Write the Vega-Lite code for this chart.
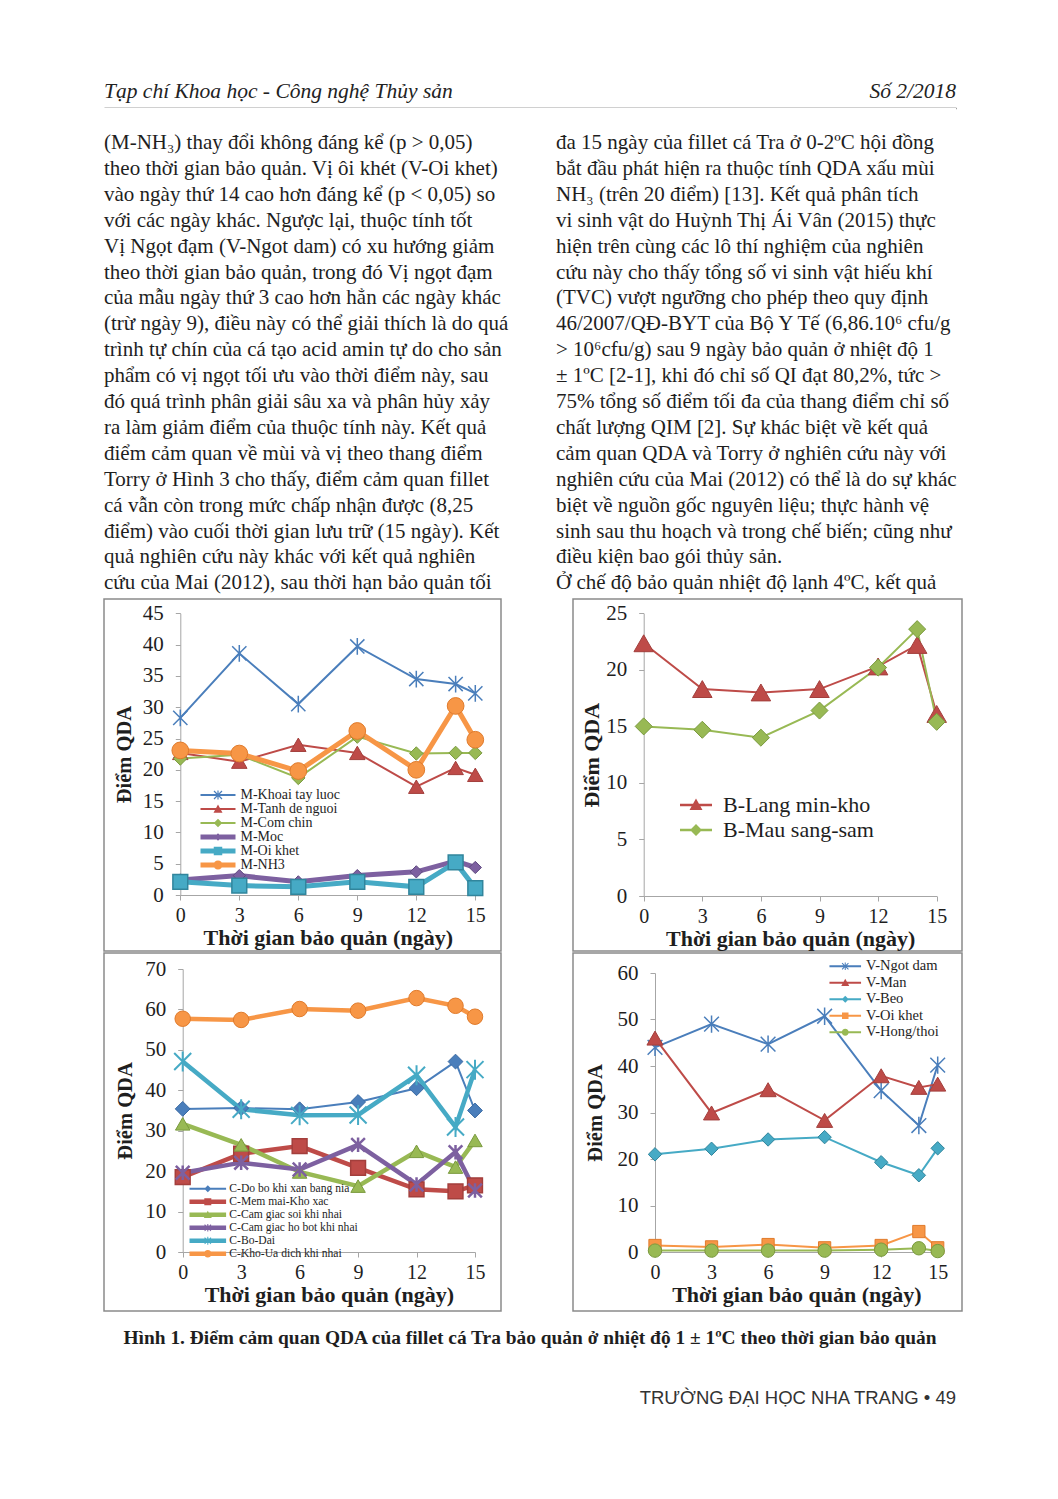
{
"$schema": "https://vega.github.io/schema/vega-lite/v6.json",
"background": "white",
"padding": {"left": 103, "top": 76, "right": 97, "bottom": 40},
"spacing": 0,
"config": {
  "font": "Liberation Serif",
  "view": {"stroke": null},
  "axis": {"grid": false, "domainColor": "#a6a6a6", "tickColor": "#a6a6a6", "domainWidth": 1, "tickWidth": 1, "tickSize": 5, "labelFont": "Liberation Serif", "labelFontSize": 21, "labelColor": "#1e1e1e", "titleFont": "Liberation Serif", "titleFontWeight": "bold", "titleColor": "#1e1e1e", "labelOverlap": false, "labelFlush": false},
  "axisX": {"labelFontSize": 20, "labelPadding": 5, "titlePadding": 2, "titleFontSize": 22},
  "legend": {"labelFont": "Liberation Serif", "labelColor": "#1e1e1e", "labelLimit": 0, "padding": 0, "symbolStrokeWidth": 0}
},
"datasets": {
  "header": [{"side": "left", "text": "Tạp chí Khoa học - Công nghệ Thủy sản"}, {"side": "right", "text": "Số 2/2018"}],
  "body": [
    {"col": 0, "line": 1, "text": "(M-NH₃) thay đổi không đáng kể (p > 0,05)"},
    {"col": 0, "line": 2, "text": "theo thời gian bảo quản. Vị ôi khét (V-Oi khet)"},
    {"col": 0, "line": 3, "text": "vào ngày thứ 14 cao hơn đáng kể (p < 0,05) so"},
    {"col": 0, "line": 4, "text": "với các ngày khác. Ngược lại, thuộc tính tốt"},
    {"col": 0, "line": 5, "text": "Vị Ngọt đạm (V-Ngot dam) có xu hướng giảm"},
    {"col": 0, "line": 6, "text": "theo thời gian bảo quản, trong đó Vị ngọt đạm"},
    {"col": 0, "line": 7, "text": "của mẫu ngày thứ 3 cao hơn hẳn các ngày khác"},
    {"col": 0, "line": 8, "text": "(trừ ngày 9), điều này có thể giải thích là do quá"},
    {"col": 0, "line": 9, "text": "trình tự chín của cá tạo acid amin tự do cho sản"},
    {"col": 0, "line": 10, "text": "phẩm có vị ngọt tối ưu vào thời điểm này, sau"},
    {"col": 0, "line": 11, "text": "đó quá trình phân giải sâu xa và phân hủy xảy"},
    {"col": 0, "line": 12, "text": "ra làm giảm điểm của thuộc tính này. Kết quả"},
    {"col": 0, "line": 13, "text": "điểm cảm quan về mùi và vị theo thang điểm"},
    {"col": 0, "line": 14, "text": "Torry ở Hình 3 cho thấy, điểm cảm quan fillet"},
    {"col": 0, "line": 15, "text": "cá vẫn còn trong mức chấp nhận được (8,25"},
    {"col": 0, "line": 16, "text": "điểm) vào cuối thời gian lưu trữ (15 ngày). Kết"},
    {"col": 0, "line": 17, "text": "quả nghiên cứu này khác với kết quả nghiên"},
    {"col": 0, "line": 18, "text": "cứu của Mai (2012), sau thời hạn bảo quản tối"},
    {"col": 1, "line": 1, "text": "đa 15 ngày của fillet cá Tra ở 0-2ºC hội đồng"},
    {"col": 1, "line": 2, "text": "bắt đầu phát hiện ra thuộc tính QDA xấu mùi"},
    {"col": 1, "line": 3, "text": "NH₃ (trên 20 điểm) [13]. Kết quả phân tích"},
    {"col": 1, "line": 4, "text": "vi sinh vật do Huỳnh Thị Ái Vân (2015) thực"},
    {"col": 1, "line": 5, "text": "hiện trên cùng các lô thí nghiệm của nghiên"},
    {"col": 1, "line": 6, "text": "cứu này cho thấy tổng số vi sinh vật hiếu khí"},
    {"col": 1, "line": 7, "text": "(TVC) vượt ngưỡng cho phép theo quy định"},
    {"col": 1, "line": 8, "text": "46/2007/QĐ-BYT của Bộ Y Tế (6,86.10⁶ cfu/g"},
    {"col": 1, "line": 9, "text": "> 10⁶cfu/g) sau 9 ngày bảo quản ở nhiệt độ 1"},
    {"col": 1, "line": 10, "text": "± 1ºC [2-1], khi đó chỉ số QI đạt 80,2%, tức >"},
    {"col": 1, "line": 11, "text": "75% tổng số điểm tối đa của thang điểm chỉ số"},
    {"col": 1, "line": 12, "text": "chất lượng QIM [2]. Sự khác biệt về kết quả"},
    {"col": 1, "line": 13, "text": "cảm quan QDA và Torry ở nghiên cứu này với"},
    {"col": 1, "line": 14, "text": "nghiên cứu của Mai (2012) có thể là do sự khác"},
    {"col": 1, "line": 15, "text": "biệt về nguồn gốc nguyên liệu; thực hành vệ"},
    {"col": 1, "line": 16, "text": "sinh sau thu hoạch và trong chế biến; cũng như"},
    {"col": 1, "line": 17, "text": "điều kiện bao gói thủy sản."},
    {"col": 1, "line": 18, "text": "\u2003\u00a0\u00a0Ở chế độ bảo quản nhiệt độ lạnh 4ºC, kết quả"}
  ],
  "m": [
    {"day": 0, "series": "M-Khoai tay luoc", "score": 28.3}, {"day": 3, "series": "M-Khoai tay luoc", "score": 38.6}, {"day": 6, "series": "M-Khoai tay luoc", "score": 30.5}, {"day": 9, "series": "M-Khoai tay luoc", "score": 39.7}, {"day": 12, "series": "M-Khoai tay luoc", "score": 34.5}, {"day": 14, "series": "M-Khoai tay luoc", "score": 33.7}, {"day": 15, "series": "M-Khoai tay luoc", "score": 32.2},
    {"day": 0, "series": "M-Tanh de nguoi", "score": 22.7}, {"day": 3, "series": "M-Tanh de nguoi", "score": 21.3}, {"day": 6, "series": "M-Tanh de nguoi", "score": 24.0}, {"day": 9, "series": "M-Tanh de nguoi", "score": 22.7}, {"day": 12, "series": "M-Tanh de nguoi", "score": 17.3}, {"day": 14, "series": "M-Tanh de nguoi", "score": 20.3}, {"day": 15, "series": "M-Tanh de nguoi", "score": 19.2},
    {"day": 0, "series": "M-Com chin", "score": 21.8}, {"day": 3, "series": "M-Com chin", "score": 22.4}, {"day": 6, "series": "M-Com chin", "score": 18.7}, {"day": 9, "series": "M-Com chin", "score": 25.3}, {"day": 12, "series": "M-Com chin", "score": 22.6}, {"day": 14, "series": "M-Com chin", "score": 22.7}, {"day": 15, "series": "M-Com chin", "score": 22.7},
    {"day": 0, "series": "M-Moc", "score": 2.4}, {"day": 3, "series": "M-Moc", "score": 3.1}, {"day": 6, "series": "M-Moc", "score": 2.1}, {"day": 9, "series": "M-Moc", "score": 3.1}, {"day": 12, "series": "M-Moc", "score": 3.7}, {"day": 14, "series": "M-Moc", "score": 5.4}, {"day": 15, "series": "M-Moc", "score": 4.4},
    {"day": 0, "series": "M-Oi khet", "score": 2.1}, {"day": 3, "series": "M-Oi khet", "score": 1.5}, {"day": 6, "series": "M-Oi khet", "score": 1.3}, {"day": 9, "series": "M-Oi khet", "score": 2.1}, {"day": 12, "series": "M-Oi khet", "score": 1.3}, {"day": 14, "series": "M-Oi khet", "score": 5.2}, {"day": 15, "series": "M-Oi khet", "score": 1.1},
    {"day": 0, "series": "M-NH3", "score": 23.1}, {"day": 3, "series": "M-NH3", "score": 22.6}, {"day": 6, "series": "M-NH3", "score": 19.8}, {"day": 9, "series": "M-NH3", "score": 26.2}, {"day": 12, "series": "M-NH3", "score": 20.0}, {"day": 14, "series": "M-NH3", "score": 30.2}, {"day": 15, "series": "M-NH3", "score": 24.8}
  ],
  "b": [
    {"day": 0, "series": "B-Lang min-kho", "score": 22.35}, {"day": 3, "series": "B-Lang min-kho", "score": 18.3}, {"day": 6, "series": "B-Lang min-kho", "score": 18.0}, {"day": 9, "series": "B-Lang min-kho", "score": 18.3}, {"day": 12, "series": "B-Lang min-kho", "score": 20.3}, {"day": 14, "series": "B-Lang min-kho", "score": 22.2}, {"day": 15, "series": "B-Lang min-kho", "score": 16.1},
    {"day": 0, "series": "B-Mau sang-sam", "score": 15.0}, {"day": 3, "series": "B-Mau sang-sam", "score": 14.7}, {"day": 6, "series": "B-Mau sang-sam", "score": 14.0}, {"day": 9, "series": "B-Mau sang-sam", "score": 16.4}, {"day": 12, "series": "B-Mau sang-sam", "score": 20.2}, {"day": 14, "series": "B-Mau sang-sam", "score": 23.6}, {"day": 15, "series": "B-Mau sang-sam", "score": 15.4}
  ],
  "c": [
    {"day": 0, "series": "C-Do bo khi xan bang nia", "score": 35.4}, {"day": 3, "series": "C-Do bo khi xan bang nia", "score": 35.6}, {"day": 6, "series": "C-Do bo khi xan bang nia", "score": 35.3}, {"day": 9, "series": "C-Do bo khi xan bang nia", "score": 37.1}, {"day": 12, "series": "C-Do bo khi xan bang nia", "score": 40.5}, {"day": 14, "series": "C-Do bo khi xan bang nia", "score": 47.1}, {"day": 15, "series": "C-Do bo khi xan bang nia", "score": 35.0},
    {"day": 0, "series": "C-Mem mai-Kho xac", "score": 18.5}, {"day": 3, "series": "C-Mem mai-Kho xac", "score": 24.3}, {"day": 6, "series": "C-Mem mai-Kho xac", "score": 26.2}, {"day": 9, "series": "C-Mem mai-Kho xac", "score": 20.8}, {"day": 12, "series": "C-Mem mai-Kho xac", "score": 15.5}, {"day": 14, "series": "C-Mem mai-Kho xac", "score": 15.0}, {"day": 15, "series": "C-Mem mai-Kho xac", "score": 16.5},
    {"day": 0, "series": "C-Cam giac soi khi nhai", "score": 31.7}, {"day": 3, "series": "C-Cam giac soi khi nhai", "score": 26.5}, {"day": 6, "series": "C-Cam giac soi khi nhai", "score": 19.8}, {"day": 9, "series": "C-Cam giac soi khi nhai", "score": 16.3}, {"day": 12, "series": "C-Cam giac soi khi nhai", "score": 24.9}, {"day": 14, "series": "C-Cam giac soi khi nhai", "score": 21.0}, {"day": 15, "series": "C-Cam giac soi khi nhai", "score": 27.6},
    {"day": 0, "series": "C-Cam giac ho bot khi nhai", "score": 19.6}, {"day": 3, "series": "C-Cam giac ho bot khi nhai", "score": 22.1}, {"day": 6, "series": "C-Cam giac ho bot khi nhai", "score": 20.4}, {"day": 9, "series": "C-Cam giac ho bot khi nhai", "score": 26.5}, {"day": 12, "series": "C-Cam giac ho bot khi nhai", "score": 16.7}, {"day": 14, "series": "C-Cam giac ho bot khi nhai", "score": 24.7}, {"day": 15, "series": "C-Cam giac ho bot khi nhai", "score": 15.2},
    {"day": 0, "series": "C-Bo-Dai", "score": 47.1}, {"day": 3, "series": "C-Bo-Dai", "score": 35.3}, {"day": 6, "series": "C-Bo-Dai", "score": 33.8}, {"day": 9, "series": "C-Bo-Dai", "score": 33.9}, {"day": 12, "series": "C-Bo-Dai", "score": 43.7}, {"day": 14, "series": "C-Bo-Dai", "score": 30.9}, {"day": 15, "series": "C-Bo-Dai", "score": 45.1},
    {"day": 0, "series": "C-Kho-Ua dich khi nhai", "score": 57.7}, {"day": 3, "series": "C-Kho-Ua dich khi nhai", "score": 57.4}, {"day": 6, "series": "C-Kho-Ua dich khi nhai", "score": 60.1}, {"day": 9, "series": "C-Kho-Ua dich khi nhai", "score": 59.7}, {"day": 12, "series": "C-Kho-Ua dich khi nhai", "score": 62.8}, {"day": 14, "series": "C-Kho-Ua dich khi nhai", "score": 60.9}, {"day": 15, "series": "C-Kho-Ua dich khi nhai", "score": 58.2}
  ],
  "v": [
    {"day": 0, "series": "V-Ngot dam", "score": 44.0}, {"day": 3, "series": "V-Ngot dam", "score": 49.0}, {"day": 6, "series": "V-Ngot dam", "score": 44.7}, {"day": 9, "series": "V-Ngot dam", "score": 50.7}, {"day": 12, "series": "V-Ngot dam", "score": 34.7}, {"day": 14, "series": "V-Ngot dam", "score": 27.2}, {"day": 15, "series": "V-Ngot dam", "score": 40.2},
    {"day": 0, "series": "V-Man", "score": 46.0}, {"day": 3, "series": "V-Man", "score": 29.9}, {"day": 6, "series": "V-Man", "score": 34.9}, {"day": 9, "series": "V-Man", "score": 28.3}, {"day": 12, "series": "V-Man", "score": 37.9}, {"day": 14, "series": "V-Man", "score": 35.4}, {"day": 15, "series": "V-Man", "score": 36.1},
    {"day": 0, "series": "V-Beo", "score": 21.0}, {"day": 3, "series": "V-Beo", "score": 22.2}, {"day": 6, "series": "V-Beo", "score": 24.2}, {"day": 9, "series": "V-Beo", "score": 24.7}, {"day": 12, "series": "V-Beo", "score": 19.3}, {"day": 14, "series": "V-Beo", "score": 16.5}, {"day": 15, "series": "V-Beo", "score": 22.3},
    {"day": 0, "series": "V-Oi khet", "score": 1.4}, {"day": 3, "series": "V-Oi khet", "score": 1.1}, {"day": 6, "series": "V-Oi khet", "score": 1.6}, {"day": 9, "series": "V-Oi khet", "score": 0.9}, {"day": 12, "series": "V-Oi khet", "score": 1.4}, {"day": 14, "series": "V-Oi khet", "score": 4.4}, {"day": 15, "series": "V-Oi khet", "score": 0.9},
    {"day": 0, "series": "V-Hong/thoi", "score": 0.3}, {"day": 3, "series": "V-Hong/thoi", "score": 0.3}, {"day": 6, "series": "V-Hong/thoi", "score": 0.3}, {"day": 9, "series": "V-Hong/thoi", "score": 0.3}, {"day": 12, "series": "V-Hong/thoi", "score": 0.5}, {"day": 14, "series": "V-Hong/thoi", "score": 0.8}, {"day": 15, "series": "V-Hong/thoi", "score": 0.2}
  ],
  "caption": [{"text": "Hình 1. Điểm cảm quan QDA của fillet cá Tra bảo quản ở nhiệt độ 1 ± 1ºC theo thời gian bảo quản"}]
},
"resolve": {"scale": {"color": "independent", "shape": "independent"}, "legend": {"color": "independent", "shape": "independent"}},
"vconcat": [
  {
    "width": 852, "height": 32,
    "view": {"stroke": null, "fill": "white"},
    "data": {"name": "header"},
    "encoding": {
      "x": {"field": "side", "type": "nominal", "scale": {"type": "point", "domain": ["left", "right"], "range": [0, 852], "padding": 0}, "axis": {"labels": false, "ticks": false, "title": null, "domainColor": "#444444", "domainWidth": 1.5, "offset": 0}},
      "text": {"field": "text"}
    },
    "layer": [
      {"transform": [{"filter": "datum.side == 'left'"}], "mark": {"type": "text", "align": "left", "baseline": "middle", "font": "Liberation Serif", "fontStyle": "italic", "fontSize": 21.5, "color": "#222222"}},
      {"transform": [{"filter": "datum.side == 'right'"}], "mark": {"type": "text", "align": "right", "baseline": "middle", "font": "Liberation Serif", "fontStyle": "italic", "fontSize": 21.5, "color": "#222222"}}
    ]
  },
  {
    "width": 852, "height": 490,
    "view": {"stroke": null, "fill": "white"},
    "data": {"name": "body"},
    "mark": {"type": "text", "align": "left", "baseline": "middle", "font": "Liberation Serif", "fontSize": 21, "color": "#1e1e1e"},
    "encoding": {
      "x": {"field": "col", "type": "quantitative", "scale": {"domain": [0, 1], "range": [0, 452], "nice": false, "zero": false}, "axis": null},
      "y": {"field": "line", "type": "quantitative", "scale": {"domain": [1, 18], "range": [35, 475.3], "nice": false, "zero": false}, "axis": null},
      "text": {"field": "text"}
    }
  },
  {
    "hconcat": [
      {
        "width": 397, "height": 352,
        "view": {"stroke": "#8a8a8a", "strokeWidth": 1.5, "fill": "white"},
        "data": {"name": "m"},
        "encoding": {
          "x": {"field": "day", "type": "quantitative", "scale": {"domain": [0, 15], "range": [76.3, 371.3], "nice": false, "zero": false}, "axis": {"values": [0, 3, 6, 9, 12, 15], "title": "Thời gian bảo quản (ngày)", "offset": -56}},
          "y": {"field": "score", "type": "quantitative", "scale": {"domain": [0, 45], "range": [296, 14.3], "nice": false, "zero": false}, "axis": {"values": [0, 5, 10, 15, 20, 25, 30, 35, 40, 45], "title": "Điểm QDA", "offset": -76.3, "labelPadding": 12, "titlePadding": 8, "titleFontSize": 20.5}},
          "color": {"field": "series", "type": "nominal", "scale": {"domain": ["M-Khoai tay luoc", "M-Tanh de nguoi", "M-Com chin", "M-Moc", "M-Oi khet", "M-NH3"], "range": ["#4a7ebb", "#be4b48", "#98b954", "#7d60a0", "#46aac5", "#f79646"]}, "legend": {"orient": "none", "legendX": 107, "legendY": 189, "title": null, "padding": 0, "symbolSize": 100, "labelFontSize": 14, "labelOffset": 15.5, "rowPadding": 0}}
        },
        "layer": [
          {"transform": [{"filter": {"field": "series", "oneOf": ["M-Khoai tay luoc", "M-Tanh de nguoi", "M-Com chin"]}}], "mark": {"type": "line", "strokeWidth": 2}},
          {"transform": [{"filter": {"field": "series", "oneOf": ["M-Moc", "M-Oi khet", "M-NH3"]}}], "mark": {"type": "line", "strokeWidth": 5}},
          {"transform": [{"filter": {"field": "series", "equal": "M-Khoai tay luoc"}}], "mark": {"type": "point", "shape": "M-0.85,-0.85L0.85,0.85M-0.85,0.85L0.85,-0.85M0,-1L0,1", "filled": false, "size": 280, "strokeWidth": 1.5, "opacity": 1}},
          {"transform": [{"filter": {"field": "series", "equal": "M-Tanh de nguoi"}}], "mark": {"type": "point", "shape": "triangle-up", "filled": true, "size": 240, "stroke": "#a33f3c", "strokeWidth": 1, "opacity": 1}},
          {"transform": [{"filter": {"field": "series", "equal": "M-Com chin"}}], "mark": {"type": "point", "shape": "diamond", "filled": true, "size": 180, "stroke": "#7a9a3e", "strokeWidth": 1, "opacity": 1}},
          {"transform": [{"filter": {"field": "series", "equal": "M-Moc"}}], "mark": {"type": "point", "shape": "diamond", "filled": true, "size": 150, "stroke": "#5f4a80", "strokeWidth": 1, "opacity": 1}},
          {"transform": [{"filter": {"field": "series", "equal": "M-Oi khet"}}], "mark": {"type": "point", "shape": "square", "filled": true, "size": 220, "stroke": "#31859c", "strokeWidth": 1.5, "opacity": 1}},
          {"transform": [{"filter": {"field": "series", "equal": "M-NH3"}}], "mark": {"type": "point", "shape": "circle", "filled": true, "size": 280, "stroke": "#e07b2c", "strokeWidth": 1, "opacity": 1}},
          {"transform": [{"filter": "datum.day < 0"}], "mark": {"type": "point", "filled": true, "opacity": 1, "strokeWidth": 0},
           "encoding": {
             "shape": {"field": "series", "type": "nominal", "scale": {"domain": ["M-Khoai tay luoc", "M-Tanh de nguoi", "M-Com chin", "M-Moc", "M-Oi khet", "M-NH3"], "range": [
               "M-3.5,-0.2H3.5V0.2H-3.5ZM-0.12,-0.9H0.12V0.9H-0.12ZM-0.715,-0.885L0.885,0.715L0.715,0.885L-0.885,-0.715ZM-0.885,0.715L0.715,-0.885L0.885,-0.715L-0.715,0.885Z",
               "M-3.5,-0.2H3.5V0.2H-3.5ZM-0.9,0.75L0,-0.9L0.9,0.75Z",
               "M-3.5,-0.2H3.5V0.2H-3.5ZM-0.85,0L0,-0.85L0.85,0L0,0.85Z",
               "M-3.5,-0.5H3.5V0.5H-3.5ZM-0.75,0L0,-0.75L0.75,0L0,0.75Z",
               "M-3.5,-0.5H3.5V0.5H-3.5ZM-0.85,-0.85H0.85V0.85H-0.85Z",
               "M-3.5,-0.5H3.5V0.5H-3.5ZM-0.9,0A0.9,0.9,0,1,1,0.9,0A0.9,0.9,0,1,1,-0.9,0Z"]},
               "legend": {"orient": "none", "legendX": 107, "legendY": 189, "title": null, "padding": 0, "symbolSize": 100, "labelFontSize": 14, "labelOffset": 15.5, "rowPadding": 0}}
           }}
        ]
      },
      {
        "width": 389, "height": 352,
        "view": {"stroke": "#8a8a8a", "strokeWidth": 1.5, "fill": "white"},
        "data": {"name": "b"},
        "encoding": {
          "x": {"field": "day", "type": "quantitative", "scale": {"domain": [0, 15], "range": [70.7, 363.7], "nice": false, "zero": false}, "axis": {"values": [0, 3, 6, 9, 12, 15], "title": "Thời gian bảo quản (ngày)", "offset": -55}},
          "y": {"field": "score", "type": "quantitative", "scale": {"domain": [0, 25], "range": [297, 14.3], "nice": false, "zero": false}, "axis": {"values": [0, 5, 10, 15, 20, 25], "title": "Điểm QDA", "offset": -70.7, "labelPadding": 12, "titlePadding": 2, "titleFontSize": 22}},
          "color": {"field": "series", "type": "nominal", "scale": {"domain": ["B-Lang min-kho", "B-Mau sang-sam"], "range": ["#be4b48", "#98b954"]}, "legend": {"orient": "none", "legendX": 112, "legendY": 195, "title": null, "padding": 0, "symbolSize": 100, "labelFontSize": 22, "labelOffset": 16, "rowPadding": 3}}
        },
        "layer": [
          {"mark": {"type": "line", "strokeWidth": 2}},
          {"transform": [{"filter": {"field": "series", "equal": "B-Lang min-kho"}}], "mark": {"type": "point", "shape": "triangle-up", "filled": true, "size": 380, "stroke": "#a33f3c", "strokeWidth": 1, "opacity": 1}},
          {"transform": [{"filter": {"field": "series", "equal": "B-Mau sang-sam"}}], "mark": {"type": "point", "shape": "diamond", "filled": true, "size": 290, "stroke": "#7a9a3e", "strokeWidth": 1, "opacity": 1}},
          {"transform": [{"filter": "datum.day < 0"}], "mark": {"type": "point", "filled": true, "opacity": 1, "strokeWidth": 0},
           "encoding": {
             "shape": {"field": "series", "type": "nominal", "scale": {"domain": ["B-Lang min-kho", "B-Mau sang-sam"], "range": [
               "M-3.2,-0.25H3.2V0.25H-3.2ZM-1.3,1L0,-1.3L1.3,1Z",
               "M-3.2,-0.25H3.2V0.25H-3.2ZM-1.2,0L0,-1.2L1.2,0L0,1.2Z"]},
               "legend": {"orient": "none", "legendX": 112, "legendY": 195, "title": null, "padding": 0, "symbolSize": 100, "labelFontSize": 22, "labelOffset": 16, "rowPadding": 3}}
           }}
        ]
      }
    ],
    "spacing": 72,
    "bounds": "flush",
    "resolve": {"scale": {"color": "independent", "shape": "independent"}, "legend": {"color": "independent", "shape": "independent"}}
  },
  {
    "hconcat": [
      {
        "width": 397, "height": 358,
        "view": {"stroke": "#8a8a8a", "strokeWidth": 1.5, "fill": "white"},
        "data": {"name": "c"},
        "encoding": {
          "x": {"field": "day", "type": "quantitative", "scale": {"domain": [0, 15], "range": [78.7, 371], "nice": false, "zero": false}, "axis": {"values": [0, 3, 6, 9, 12, 15], "title": "Thời gian bảo quản (ngày)", "offset": -59}},
          "y": {"field": "score", "type": "quantitative", "scale": {"domain": [0, 70], "range": [299, 16], "nice": false, "zero": false}, "axis": {"values": [0, 10, 20, 30, 40, 50, 60, 70], "title": "Điểm QDA", "offset": -78.7, "labelPadding": 12, "titlePadding": 9, "titleFontSize": 20.5}},
          "color": {"field": "series", "type": "nominal", "scale": {"domain": ["C-Do bo khi xan bang nia", "C-Mem mai-Kho xac", "C-Cam giac soi khi nhai", "C-Cam giac ho bot khi nhai", "C-Bo-Dai", "C-Kho-Ua dich khi nhai"], "range": ["#4a7ebb", "#be4b48", "#98b954", "#7d60a0", "#46aac5", "#f79646"]}, "legend": {"orient": "none", "legendX": 98, "legendY": 230, "title": null, "padding": 0, "symbolSize": 100, "labelFontSize": 11.6, "labelOffset": 15.7, "rowPadding": 0}}
        },
        "layer": [
          {"transform": [{"filter": {"field": "series", "equal": "C-Do bo khi xan bang nia"}}], "mark": {"type": "line", "strokeWidth": 2}},
          {"transform": [{"filter": {"field": "series", "oneOf": ["C-Mem mai-Kho xac", "C-Cam giac soi khi nhai", "C-Cam giac ho bot khi nhai", "C-Bo-Dai", "C-Kho-Ua dich khi nhai"]}}], "mark": {"type": "line", "strokeWidth": 4.5}},
          {"transform": [{"filter": {"field": "series", "equal": "C-Do bo khi xan bang nia"}}], "mark": {"type": "point", "shape": "diamond", "filled": true, "size": 220, "stroke": "#3a6aa3", "strokeWidth": 1, "opacity": 1}},
          {"transform": [{"filter": {"field": "series", "equal": "C-Mem mai-Kho xac"}}], "mark": {"type": "point", "shape": "square", "filled": true, "size": 220, "stroke": "#a33f3c", "strokeWidth": 1.5, "opacity": 1}},
          {"transform": [{"filter": {"field": "series", "equal": "C-Cam giac soi khi nhai"}}], "mark": {"type": "point", "shape": "triangle-up", "filled": true, "size": 210, "stroke": "#7a9a3e", "strokeWidth": 1, "opacity": 1}},
          {"transform": [{"filter": {"field": "series", "equal": "C-Cam giac ho bot khi nhai"}}], "mark": {"type": "point", "shape": "M-0.85,-0.85L0.85,0.85M-0.85,0.85L0.85,-0.85M0,-0.9L0,0.9", "filled": false, "size": 260, "strokeWidth": 2.5, "opacity": 1}},
          {"transform": [{"filter": {"field": "series", "equal": "C-Bo-Dai"}}], "mark": {"type": "point", "shape": "M-0.85,-0.85L0.85,0.85M-0.85,0.85L0.85,-0.85M0,-1L0,1", "filled": false, "size": 400, "strokeWidth": 2, "opacity": 1}},
          {"transform": [{"filter": {"field": "series", "equal": "C-Kho-Ua dich khi nhai"}}], "mark": {"type": "point", "shape": "circle", "filled": true, "size": 240, "stroke": "#e07b2c", "strokeWidth": 1, "opacity": 1}},
          {"transform": [{"filter": "datum.day < 0"}], "mark": {"type": "point", "filled": true, "opacity": 1, "strokeWidth": 0},
           "encoding": {
             "shape": {"field": "series", "type": "nominal", "scale": {"domain": ["C-Do bo khi xan bang nia", "C-Mem mai-Kho xac", "C-Cam giac soi khi nhai", "C-Cam giac ho bot khi nhai", "C-Bo-Dai", "C-Kho-Ua dich khi nhai"], "range": [
               "M-3.66,-0.2H3.66V0.2H-3.66ZM-0.7,0L0,-0.7L0.7,0L0,0.7Z",
               "M-3.66,-0.45H3.66V0.45H-3.66ZM-0.7,-0.7H0.7V0.7H-0.7Z",
               "M-3.66,-0.45H3.66V0.45H-3.66ZM-0.8,0.65L0,-0.8L0.8,0.65Z",
               "M-3.66,-0.45H3.66V0.45H-3.66ZM-0.1,-0.75H0.1V0.75H-0.1ZM-0.57,-0.71L0.71,0.57L0.57,0.71L-0.71,-0.57ZM-0.71,0.57L0.57,-0.71L0.71,-0.57L-0.57,0.71Z",
               "M-3.66,-0.45H3.66V0.45H-3.66ZM-0.1,-0.8H0.1V0.8H-0.1ZM-0.57,-0.71L0.71,0.57L0.57,0.71L-0.71,-0.57ZM-0.71,0.57L0.57,-0.71L0.71,-0.57L-0.57,0.71Z",
               "M-3.66,-0.45H3.66V0.45H-3.66ZM-0.75,0A0.75,0.75,0,1,1,0.75,0A0.75,0.75,0,1,1,-0.75,0Z"]},
               "legend": {"orient": "none", "legendX": 98, "legendY": 230, "title": null, "padding": 0, "symbolSize": 100, "labelFontSize": 11.6, "labelOffset": 15.7, "rowPadding": 0}}
           }}
        ]
      },
      {
        "width": 389, "height": 358,
        "view": {"stroke": "#8a8a8a", "strokeWidth": 1.5, "fill": "white"},
        "data": {"name": "v"},
        "encoding": {
          "x": {"field": "day", "type": "quantitative", "scale": {"domain": [0, 15], "range": [82, 364.7], "nice": false, "zero": false}, "axis": {"values": [0, 3, 6, 9, 12, 15], "title": "Thời gian bảo quản (ngày)", "offset": -59}},
          "y": {"field": "score", "type": "quantitative", "scale": {"domain": [0, 60], "range": [299, 20], "nice": false, "zero": false}, "axis": {"values": [0, 10, 20, 30, 40, 50, 60], "title": "Điểm QDA", "offset": -82, "labelPadding": 12, "titlePadding": 12, "titleFontSize": 20.5}},
          "color": {"field": "series", "type": "nominal", "scale": {"domain": ["V-Ngot dam", "V-Man", "V-Beo", "V-Oi khet", "V-Hong/thoi"], "range": ["#4a7ebb", "#be4b48", "#46aac5", "#f79646", "#98b954"]}, "legend": {"orient": "none", "legendX": 265, "legendY": 6, "title": null, "padding": 0, "symbolSize": 100, "labelFontSize": 14.5, "labelOffset": 13.5, "rowPadding": 1.5}}
        },
        "layer": [
          {"mark": {"type": "line", "strokeWidth": 2}},
          {"transform": [{"filter": {"field": "series", "equal": "V-Ngot dam"}}], "mark": {"type": "point", "shape": "M-0.85,-0.85L0.85,0.85M-0.85,0.85L0.85,-0.85M0,-1L0,1", "filled": false, "size": 300, "strokeWidth": 1.5, "opacity": 1}},
          {"transform": [{"filter": {"field": "series", "equal": "V-Man"}}], "mark": {"type": "point", "shape": "triangle-up", "filled": true, "size": 260, "stroke": "#a33f3c", "strokeWidth": 1, "opacity": 1}},
          {"transform": [{"filter": {"field": "series", "equal": "V-Beo"}}], "mark": {"type": "point", "shape": "diamond", "filled": true, "size": 180, "stroke": "#31859c", "strokeWidth": 1, "opacity": 1}},
          {"transform": [{"filter": {"field": "series", "equal": "V-Oi khet"}}], "mark": {"type": "point", "shape": "square", "filled": true, "size": 150, "stroke": "#e07b2c", "strokeWidth": 1, "opacity": 1}},
          {"transform": [{"filter": {"field": "series", "equal": "V-Hong/thoi"}}], "mark": {"type": "point", "shape": "circle", "filled": true, "size": 180, "stroke": "#7a9a3e", "strokeWidth": 1, "opacity": 1}},
          {"transform": [{"filter": "datum.day < 0"}], "mark": {"type": "point", "filled": true, "opacity": 1, "strokeWidth": 0},
           "encoding": {
             "shape": {"field": "series", "type": "nominal", "scale": {"domain": ["V-Ngot dam", "V-Man", "V-Beo", "V-Oi khet", "V-Hong/thoi"], "range": [
               "M-3.16,-0.2H3.16V0.2H-3.16ZM-0.1,-0.75H0.1V0.75H-0.1ZM-0.57,-0.71L0.71,0.57L0.57,0.71L-0.71,-0.57ZM-0.71,0.57L0.57,-0.71L0.71,-0.57L-0.57,0.71Z",
               "M-3.16,-0.2H3.16V0.2H-3.16ZM-0.8,0.65L0,-0.8L0.8,0.65Z",
               "M-3.16,-0.2H3.16V0.2H-3.16ZM-0.7,0L0,-0.7L0.7,0L0,0.7Z",
               "M-3.16,-0.2H3.16V0.2H-3.16ZM-0.65,-0.65H0.65V0.65H-0.65Z",
               "M-3.16,-0.2H3.16V0.2H-3.16ZM-0.7,0A0.7,0.7,0,1,1,0.7,0A0.7,0.7,0,1,1,-0.7,0Z"]},
               "legend": {"orient": "none", "legendX": 265, "legendY": 6, "title": null, "padding": 0, "symbolSize": 100, "labelFontSize": 14.5, "labelOffset": 13.5, "rowPadding": 1.5}}
           }}
        ]
      }
    ],
    "spacing": 72,
    "bounds": "flush",
    "resolve": {"scale": {"color": "independent", "shape": "independent"}, "legend": {"color": "independent", "shape": "independent"}}
  },
  {
    "width": 852, "height": 52,
    "view": {"stroke": null, "fill": "white"},
    "data": {"name": "caption"},
    "mark": {"type": "text", "align": "center", "baseline": "middle", "font": "Liberation Serif", "fontWeight": "bold", "fontSize": 19.4, "color": "#1e1e1e"},
    "encoding": {"text": {"field": "text"}},
    "title": {"text": "TRƯỜNG ĐẠI HỌC NHA TRANG • 49", "orient": "bottom", "anchor": "end", "frame": "group", "offset": 25, "font": "Liberation Sans", "fontSize": 18.5, "fontWeight": "normal", "color": "#333333"}
  }
]
}
